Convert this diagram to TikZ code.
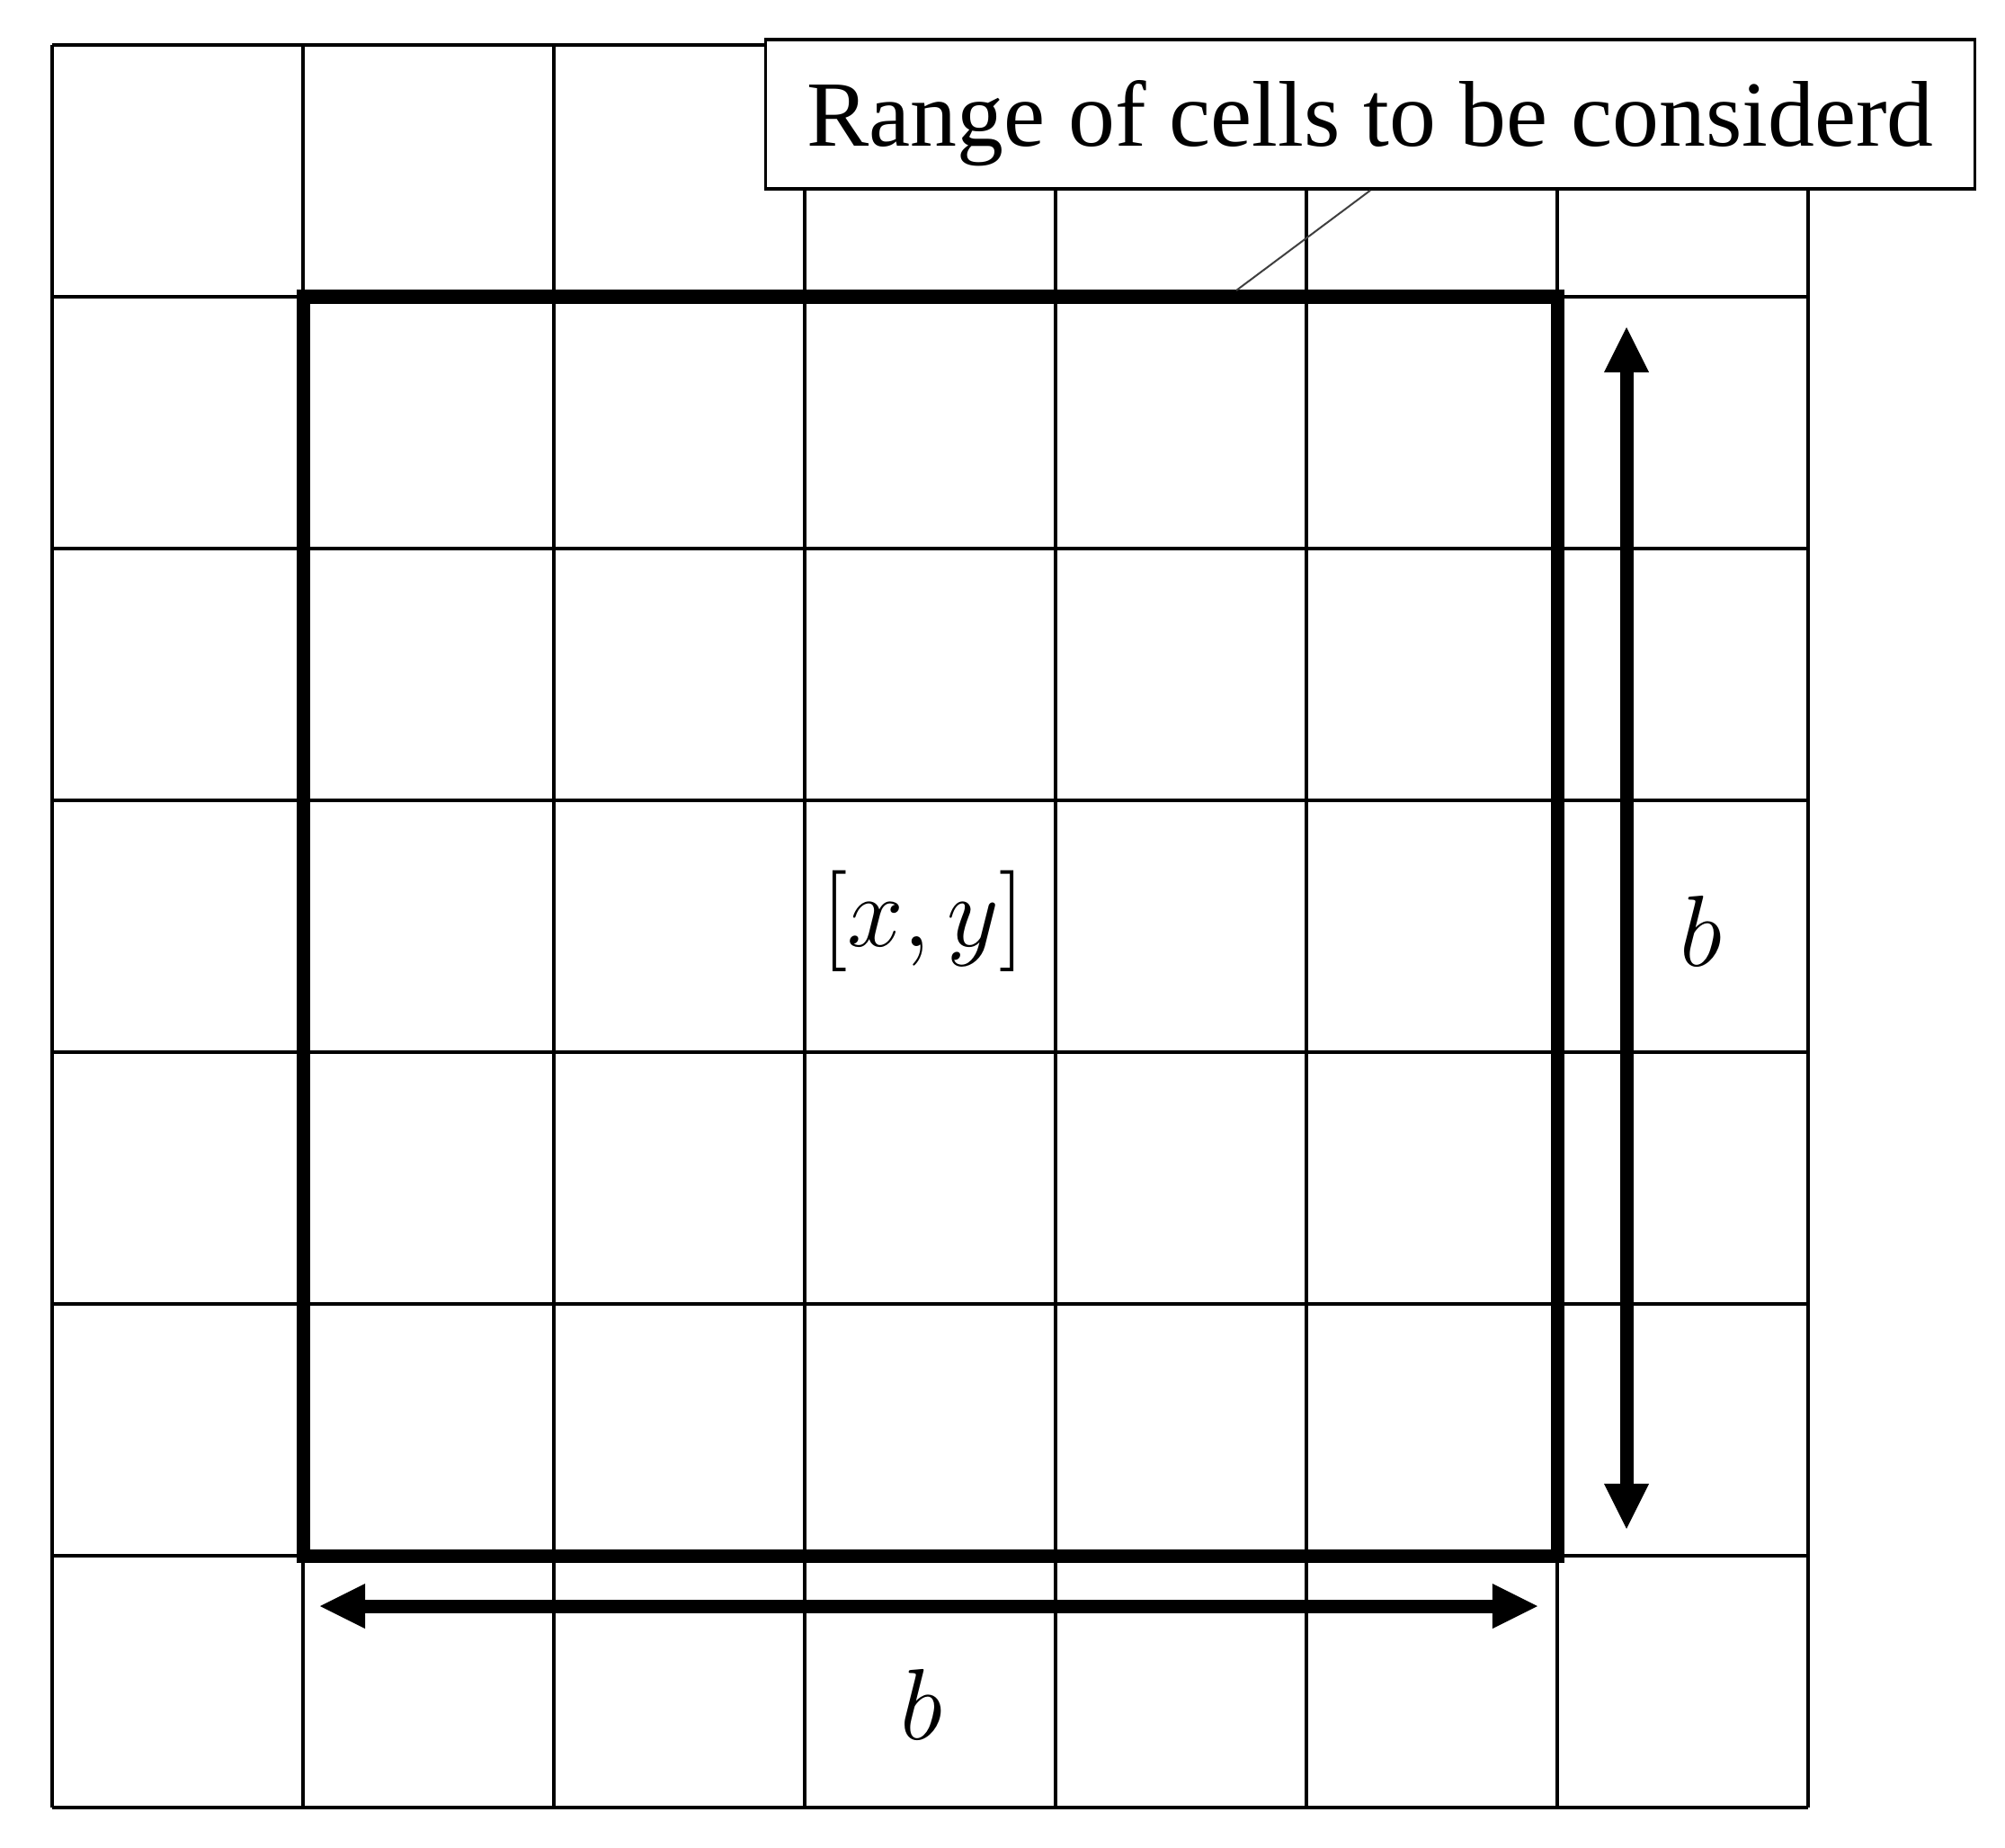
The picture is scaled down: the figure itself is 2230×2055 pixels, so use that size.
\RequirePackage{fix-cm}
\documentclass[tikz,border=0pt]{standalone}
\usepackage{fontspec}
\setmainfont{Liberation Serif}
\usetikzlibrary{arrows.meta}
\begin{document}
\begin{tikzpicture}[x=0.01cm,y=-0.01cm,
  gridline/.style={line width=0.04cm, black},
  rangebox/.style={line width=0.15cm, line join=miter, black},
  dimarrow/.style={line width=0.15cm, black,
    {Triangle[length=0.5cm,width=0.5cm,line width=0pt]}-{Triangle[length=0.5cm,width=0.5cm,line width=0pt]}},
  leader/.style={line width=0.02cm, black!75},
  labelbox/.style={draw, line width=0.035cm, fill=white, minimum width=13.44cm,
    minimum height=1.66cm, inner sep=0pt, font=\fontsize{29.5}{36}\selectfont},
  mathlabel/.style={inner sep=0pt, font=\fontsize{32}{38}\selectfont}]
\useasboundingbox (0,0) rectangle (2230,2055);
% grid
\foreach \i in {0,...,7}{
  \draw[gridline] ({58+279*\i},50) -- ({58+279*\i},2010);
  \draw[gridline] (58,{50+280*\i}) -- (2011,{50+280*\i});
}
% range box
\draw[rangebox] (337,330) rectangle (1732,1730);
% label
\node[labelbox] (lbl) at (1524,127) {\raisebox{-0.1cm}[\height][\depth]{Range of cells to be considerd}};
\coordinate (lead) at (1375,323);
\draw[leader] (lbl.south) -- (lead);
% dimension arrows
\coordinate (vtop) at (1809,364);
\coordinate (vbot) at (1809,1700);
\coordinate (hl) at (356,1786);
\coordinate (hr) at (1710,1786);
\draw[dimarrow] (vtop) -- (vbot);
\draw[dimarrow] (hl) -- (hr);
% math labels
\node[mathlabel] (xy) at (1027,1024) {$[x,y]$};
\node[mathlabel] (bv) at (1892,1035) {$b$};
\node[mathlabel] (bh) at (1025,1895) {$b$};
\end{tikzpicture}
\end{document}
